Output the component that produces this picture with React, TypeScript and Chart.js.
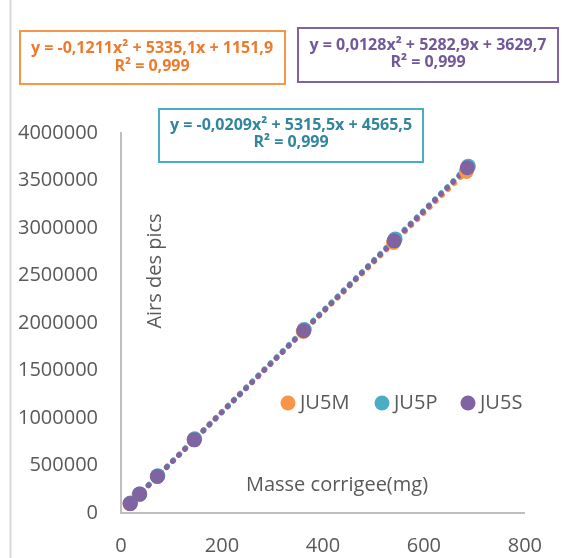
import React, { useEffect, useRef } from "react";
import { Chart, registerables } from "chart.js";

Chart.register(...registerables);

// ---- data ----
const seriesNames = ["JU5M", "JU5P", "JU5S"];
const massJU5M = [18, 36, 72, 145, 361, 540, 684];
const airsJU5M = [97000, 193000, 385000, 772000, 1911000, 2847000, 3594000];
const massJU5P = [19, 37, 73, 146, 363, 543, 688];
const airsJU5P = [105000, 201000, 393000, 781000, 1931000, 2884000, 3651000];
const massJU5S = [18, 37, 72, 145, 362, 541, 686];
const airsJU5S = [99000, 199000, 384000, 770000, 1918000, 2865000, 3634000];

// polynomial trendlines: y = a*x^2 + b*x + c
const coefJU5M = [-0.1211, 5335.1, 1151.9];
const coefJU5P = [-0.0209, 5315.5, 4565.5];
const coefJU5S = [0.0128, 5282.9, 3629.7];

const equationJU5M = ["y = -0,1211x² + 5335,1x + 1151,9", "R² = 0,999"];
const equationJU5P = ["y = -0,0209x² + 5315,5x + 4565,5", "R² = 0,999"];
const equationJU5S = ["y = 0,0128x² + 5282,9x + 3629,7", "R² = 0,999"];

const xMin = 0;
const xMax = 800;
const xStep = 200;
const yMin = 0;
const yMax = 4000000;
const yStep = 500000;
const xTitle = "Masse corrigee(mg)";
const yTitle = "Airs des pics";

export default function App() {
  const ref = useRef<HTMLCanvasElement>(null);

  useEffect(() => {
    const canvas = ref.current!;
    const FONT = "'Open Sans', sans-serif";
    const tickColor = "#595959";
    const colors = ["#F79646", "#4BACC6", "#8064A2"];
    const textColors = ["#EE7A2C", "#31859C", "#72589A"];
    const masses = [massJU5M, massJU5P, massJU5S];
    const airs = [airsJU5M, airsJU5P, airsJU5S];
    const coefs = [coefJU5M, coefJU5P, coefJU5S];
    const equations = [equationJU5M, equationJU5P, equationJU5S];

    const markerSets: any[] = seriesNames.map((name, i) => ({
      type: "scatter",
      label: name,
      data: masses[i].map((x, j) => ({ x, y: airs[i][j] })),
      backgroundColor: colors[i],
      borderColor: colors[i],
      pointRadius: 7.5,
      pointBorderWidth: 0,
      showLine: false,
      order: 2 - i,
    }));
    const trendSets: any[] = seriesNames.map((name, i) => ({
      type: "line",
      label: name + " trend",
      data: masses[i].map((x) => ({
        x,
        y: coefs[i][0] * x * x + coefs[i][1] * x + coefs[i][2],
      })),
      borderColor: colors[i],
      backgroundColor: colors[i],
      borderWidth: 5.5,
      borderDash: [0.3, 8.3],
      borderCapStyle: "round",
      pointRadius: 0,
      fill: false,
      tension: 0,
      order: 5 - i,
    }));

    // equation boxes: [left, top, width, height, centerX, line1Y, line2Y]
    const boxes = [
      [20, 31, 265, 53, 152, 48, 66],
      [159, 109, 264, 53, 291, 125.5, 142],
      [298, 28, 260, 54, 428, 45, 62],
    ];

    const overlay = {
      id: "overlay",
      afterDraw(chart: any) {
        const ctx = chart.ctx as CanvasRenderingContext2D;
        ctx.save();
        // chart frame left border
        ctx.fillStyle = "#D9D9D9";
        ctx.fillRect(9.5, 0, 2, 558);

        // axis titles inside the plot
        ctx.fillStyle = tickColor;
        ctx.font = `20px ${FONT}`;
        ctx.textAlign = "center";
        ctx.textBaseline = "middle";
        ctx.fillText(xTitle, 337, 485);
        ctx.save();
        ctx.translate(155, 271);
        ctx.rotate(-Math.PI / 2);
        ctx.fillText(yTitle, 0, 0);
        ctx.restore();

        // legend
        const legendX = [288, 382, 468];
        ctx.textAlign = "left";
        ctx.font = `20px ${FONT}`;
        seriesNames.forEach((name, i) => {
          ctx.fillStyle = colors[i];
          ctx.beginPath();
          ctx.arc(legendX[i], 403, 7.5, 0, Math.PI * 2);
          ctx.fill();
          ctx.fillStyle = tickColor;
          ctx.fillText(name, legendX[i] + 12, 403);
        });

        // equation boxes
        boxes.forEach((b, i) => {
          const [l, t, w, h, cx, y1, y2] = b;
          ctx.strokeStyle = colors[i];
          ctx.lineWidth = 2;
          ctx.strokeRect(l, t, w, h);
          ctx.fillStyle = textColors[i];
          ctx.font = `bold 16px ${FONT}`;
          ctx.textAlign = "center";
          ctx.fillText(equations[i][0], cx, y1);
          ctx.fillText(equations[i][1], cx, y2);
        });
        ctx.restore();
      },
    };

    const chart = new Chart(canvas, {
      type: "scatter",
      data: { datasets: [...markerSets, ...trendSets] },
      options: {
        animation: false,
        responsive: false,
        devicePixelRatio: 1,
        layout: { padding: { left: 0, right: 31, top: 133, bottom: 0 } },
        plugins: {
          legend: { display: false },
          tooltip: { enabled: false },
        },
        scales: {
          x: {
            type: "linear",
            min: xMin,
            max: xMax,
            ticks: {
              stepSize: xStep,
              color: tickColor,
              font: { family: FONT, size: 20 },
              padding: 21,
              maxRotation: 0,
            },
            grid: { display: false, drawTicks: false },
            border: { display: true, color: "#BFBFBF", width: 2 },
            afterFit: (s: any) => {
              s.height = 45;
            },
          },
          y: {
            type: "linear",
            min: yMin,
            max: yMax,
            ticks: {
              stepSize: yStep,
              color: tickColor,
              font: { family: FONT, size: 20 },
              padding: 23,
              callback: (v: any) => String(v),
            },
            grid: { display: false, drawTicks: false },
            border: { display: true, color: "#BFBFBF", width: 2 },
            afterFit: (s: any) => {
              s.width = 121;
            },
          },
        },
      },
      plugins: [overlay],
    } as any);

    return () => chart.destroy();
  }, []);

  return (
    <div
      style={{
        position: "fixed",
        left: 0,
        top: 0,
        width: 563,
        height: 558,
        background: "#fff",
      }}
    >
      <canvas ref={ref} width={563} height={558} />
    </div>
  );
}
